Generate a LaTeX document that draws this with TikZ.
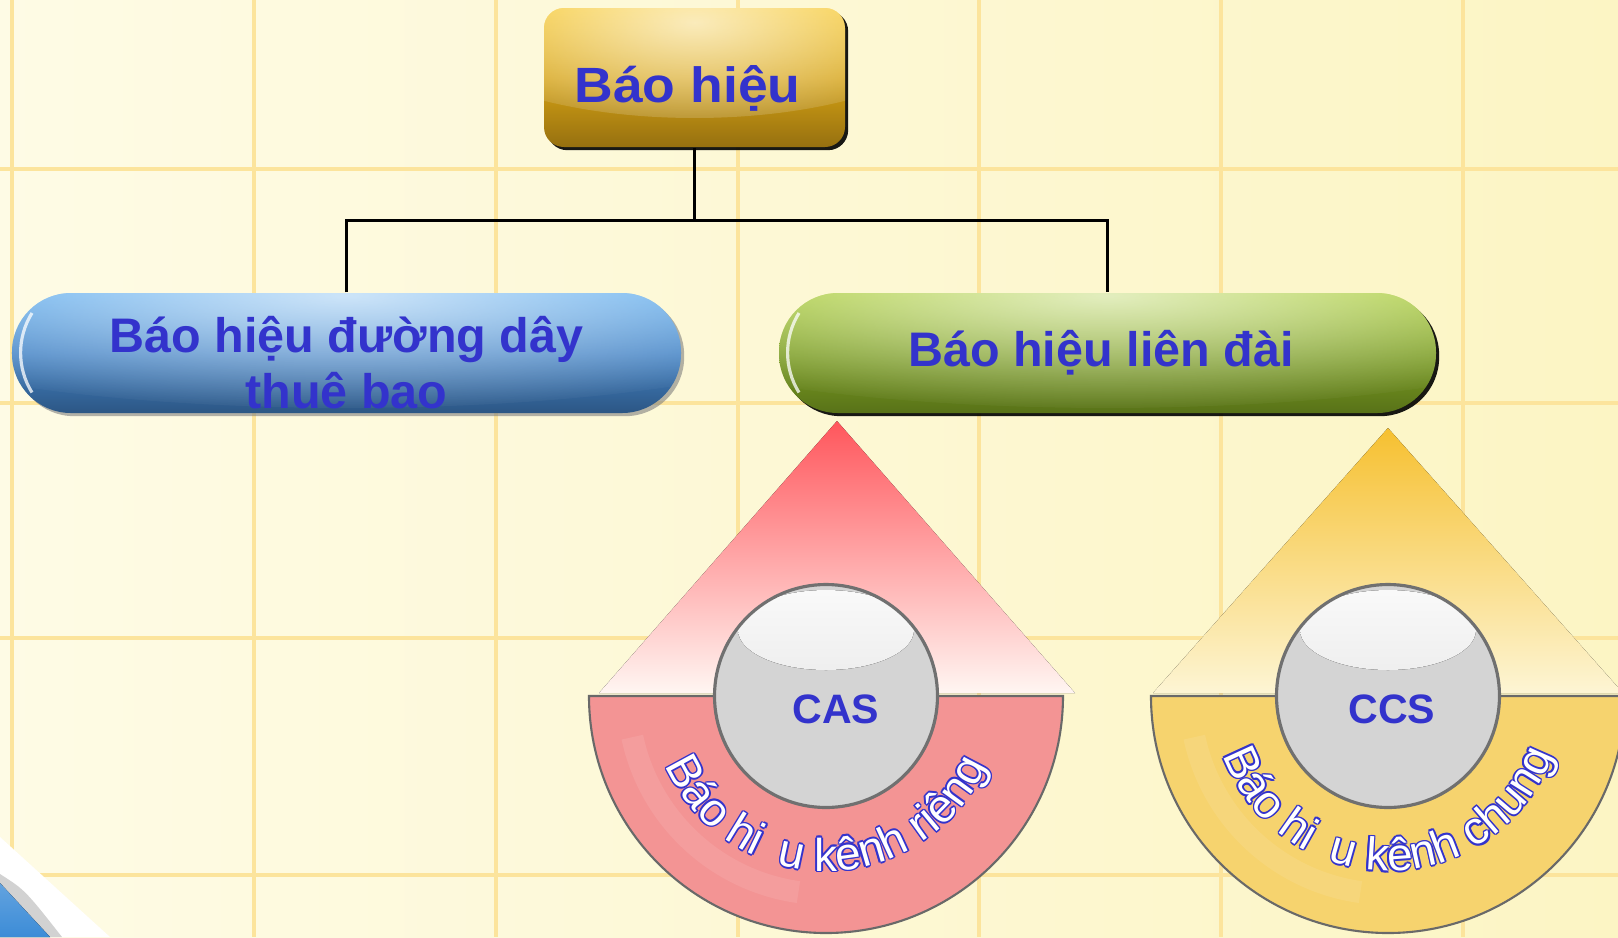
\documentclass[tikz,border=0pt]{standalone}
\usepackage{fontspec}
\setmainfont{Liberation Sans}
\newfontfamily\widesans[FakeStretch=1.08]{Liberation Sans}
\usetikzlibrary{positioning,shadows,fadings,decorations.text}

\definecolor{textblue}{RGB}{51,51,204}
\definecolor{bgleft}{RGB}{254,251,229}
\definecolor{bgright}{RGB}{252,245,196}
\definecolor{gridyellow}{RGB}{252,228,156}
\definecolor{goldtop}{RGB}{246,196,32}
\definecolor{goldmid}{RGB}{214,163,20}
\definecolor{goldbot}{RGB}{150,112,16}
\definecolor{bluetop}{RGB}{88,168,236}
\definecolor{bluemid}{RGB}{68,132,198}
\definecolor{bluebot}{RGB}{44,86,132}
\definecolor{greentop}{RGB}{162,200,40}
\definecolor{greenmid}{RGB}{124,158,34}
\definecolor{greenbot}{RGB}{88,114,24}
\definecolor{redtop}{RGB}{255,86,92}
\definecolor{redbot}{RGB}{255,246,242}
\definecolor{ambertop}{RGB}{246,192,48}
\definecolor{amberbot}{RGB}{253,245,212}
\definecolor{discred}{RGB}{243,148,148}
\definecolor{discamber}{RGB}{246,211,110}
\definecolor{discrim}{RGB}{105,105,105}
\definecolor{ballin}{RGB}{212,212,212}
\definecolor{ballmid}{RGB}{182,182,182}
\definecolor{ballout}{RGB}{138,138,138}
\definecolor{ballrim}{RGB}{112,112,112}
\definecolor{curlblue}{RGB}{60,140,215}

\pgfdeclareradialshading{glassball}{\pgfpoint{0bp}{0bp}}{color(0bp)=(ballin); color(33bp)=(ballin);
  color(45bp)=(ballmid); color(50bp)=(ballout)}
\tikzfading[name=glossfade, inner color=transparent!30, outer color=transparent!100]
\newcommand{\arcfont}{\fontsize{13.1}{15}\selectfont}

\begin{document}
\begin{tikzpicture}[
    link/.style={draw=black, line width=0.8pt},
    gridline/.style={draw=gridyellow, line width=0.9pt},
    gloss/.style={path picture={\fill[white, path fading=glossfade]
        (path picture bounding box.north) ellipse [x radius=#1, y radius=1.1cm];}},
    topbox/.style={rectangle, rounded corners=0.2cm, minimum width=3.01cm, minimum height=1.39cm,
        top color=goldtop, bottom color=goldbot, middle color=goldmid, gloss=2.8cm,
        drop shadow={shadow xshift=0.9pt, shadow yshift=-0.9pt, opacity=0.9, fill=black},
        text height=0.6cm, text depth=0.11cm,
        text=textblue, font=\widesans\bfseries\fontsize{14.1}{17}\selectfont},
    pill/.style={rectangle, rounded corners=0.59cm, minimum height=1.2cm, inner sep=0pt,
        align=center, text=textblue, font=\bfseries\fontsize{13.8}{15.9}\selectfont,
        path picture={
          \fill[white, path fading=glossfade]
            (path picture bounding box.north) ellipse [x radius=5.6cm, y radius=1.15cm];
          \draw[white, opacity=0.75, line width=0.9pt]
            ([xshift=0.2cm, yshift=0.4cm]path picture bounding box.west) arc (148:212:0.75cm);}},
    ball/.style={circle, minimum size=2.23cm, shading=glassball, draw=ballrim, line width=0.9pt,
        path picture={\fill[top color=white!96!gray, bottom color=ballin!80!white]
            ([yshift=0.66cm]path picture bounding box.center) ellipse [x radius=0.88cm, y radius=0.4cm];}},
    balltext/.style={text=textblue, font=\bfseries\fontsize{11.7}{14}\selectfont},
    halfdisc/.style={draw=discrim, line width=0.6pt},
    arcword/.style={decorate, decoration={text along path, text align=center, text color=#1}}
  ]
  \useasboundingbox (0,0) rectangle (16.18,-9.37);
  \clip (0,0) rectangle (16.18,-9.37);

  % paper and grid
  \fill[left color=bgleft, right color=bgright] (0,0) rectangle (16.18,-9.37);
  \foreach \x in {0.12,2.54,4.96,7.38,9.79,12.21,14.63}
    \draw[gridline] (\x,0) -- (\x,-9.37);
  \foreach \y in {-1.69,-4.03,-6.38,-8.75}
    \draw[gridline] (0,\y) -- (16.18,\y);

  % page corner
  \fill[white] (0,-8.37) -- (1.10,-9.37) -- (0,-9.37) -- cycle;
  \fill[gray!35] (0,-8.74) .. controls (0.25,-8.9) .. (0.62,-9.37) -- (0,-9.37) -- cycle;
  \fill[top color=curlblue!80!white, bottom color=curlblue] (0,-8.83) -- (0.50,-9.37) -- (0,-9.37) -- cycle;

  % tree
  \node[topbox] (sig) at (6.945,-0.775) {Báo hiệu\kern0.14cm};
  \node[pill, top color=bluetop, bottom color=bluebot, middle color=bluemid, minimum width=6.69cm,
        drop shadow={shadow xshift=0.9pt, shadow yshift=-0.9pt, opacity=0.6, fill=gray}]
        (line) at (3.465,-3.53) {\rule{0pt}{0.56cm}Báo hiệu đường dây\\thuê bao};
  \node[pill, top color=greentop, bottom color=greenbot, middle color=greenmid, minimum width=6.57cm,
        drop shadow={shadow xshift=0.9pt, shadow yshift=-0.9pt, opacity=0.9, fill=black}]
        (inter) at (11.075,-3.53) {Báo hiệu liên đài\kern0.13cm};

  \draw[link] (sig.south) -- ++(0,-0.73) coordinate (fork);
  \draw[link] (line.north) |- (fork) -| (inter.north);

  % the two kinds of inter-office signalling
  \fill[top color=redtop, bottom color=redbot] (8.37,-4.21) -- (10.75,-6.93) -- (5.99,-6.93) -- cycle;
  \fill[top color=ambertop, bottom color=amberbot] (13.88,-4.28) -- (16.23,-6.93) -- (11.53,-6.93) -- cycle;

  \foreach \cx/\tint in {8.26/discred, 13.88/discamber}{
    \draw[halfdisc, fill=\tint] (\cx,-6.96) ++(180:2.37) arc (180:360:2.37) -- cycle;
    \draw[white, opacity=0.09, line width=0.22cm] (\cx,-6.96) ++(192:1.98) arc (192:262:1.98);
  }

  \node[ball] (cas) at (8.26,-6.96) {};
  \node[ball] (ccs) at (13.88,-6.96) {};
  \node[balltext] (casLabel) at ([shift={(0.1,-0.13)}]cas.center) {CAS};
  \node[balltext] (ccsLabel) at ([shift={(0.04,-0.13)}]ccs.center) {CCS};

  % outlined words round the lower half
  \foreach \cx/\words in {8.26/Báo hi^^^^2002u kênh riêng, 13.88/Báo hi^^^^2002u kênh chung}{
    \foreach \dx/\dy in {0.45/0,-0.45/0,0/0.45,0/-0.45,0.32/0.32,-0.32/0.32,0.32/-0.32,-0.32/-0.32}
      \path[arcword=textblue, decoration={text/.expanded=|\noexpand\arcfont|\words}]
        ([shift={(\dx pt,\dy pt)}]\cx,-6.96) ++(180:1.75) arc (180:360:1.75);
    \path[arcword=white, decoration={text/.expanded=|\noexpand\arcfont|\words}]
      (\cx,-6.96) ++(180:1.75) arc (180:360:1.75);
  }
\end{tikzpicture}
\end{document}
